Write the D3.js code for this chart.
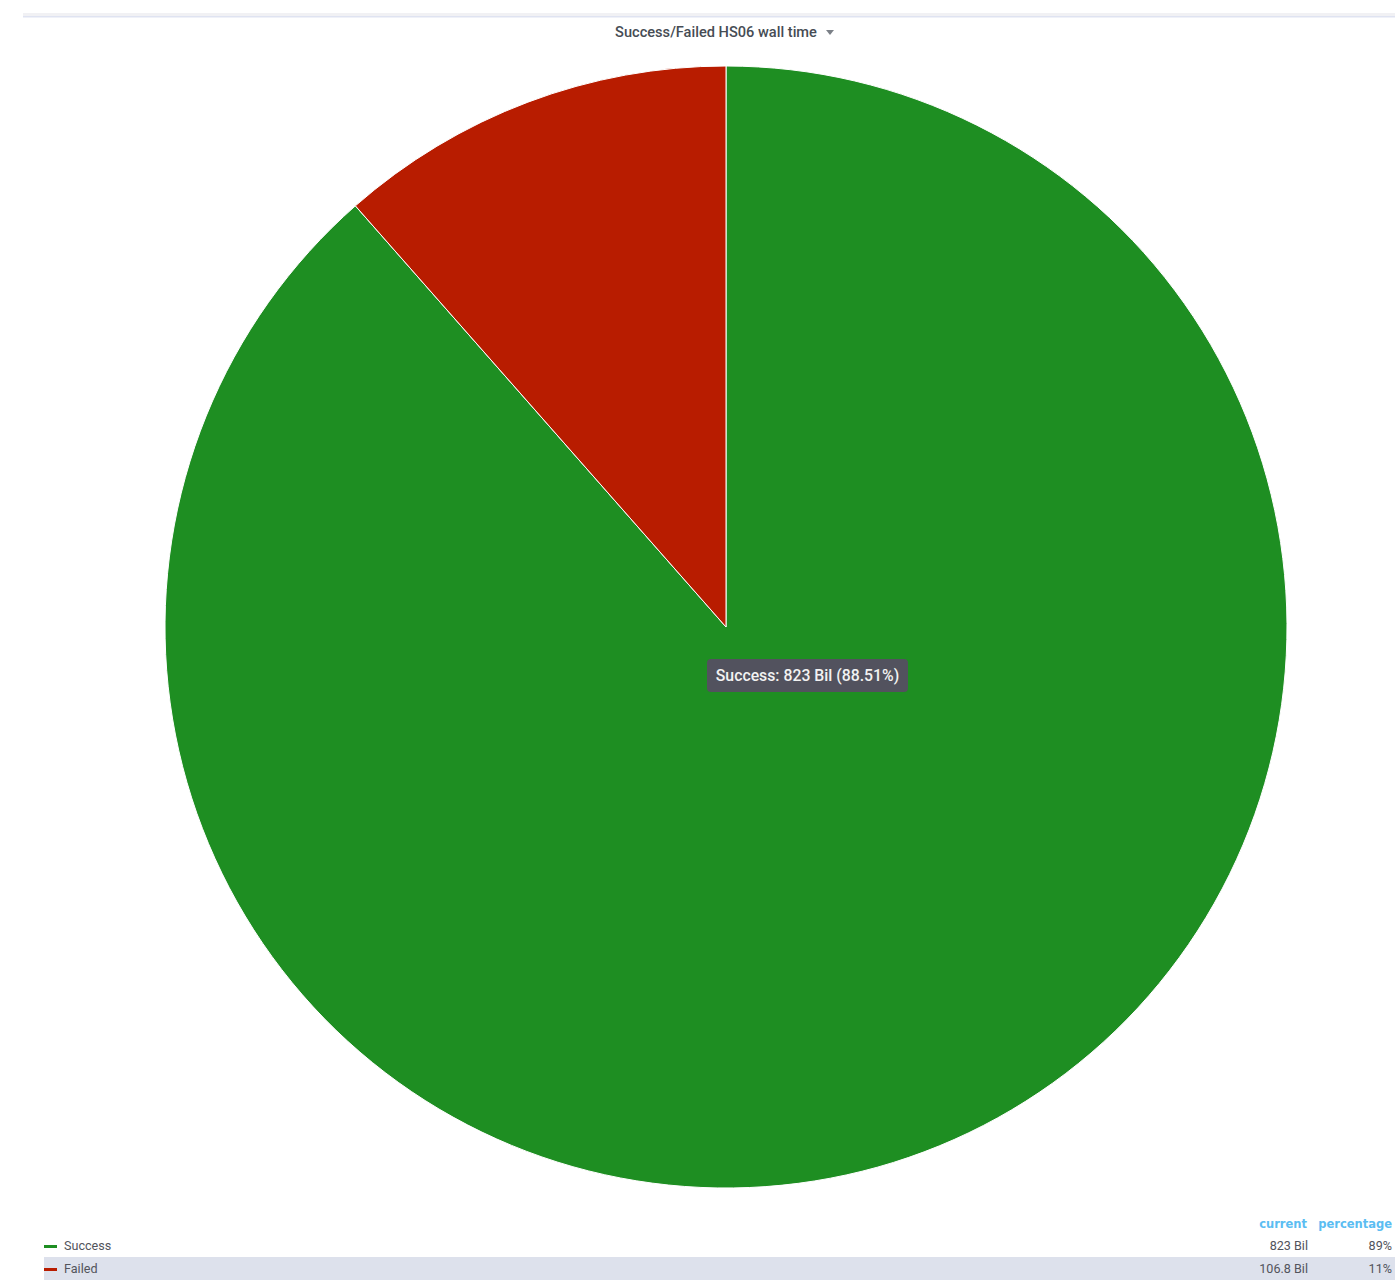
<!DOCTYPE html>
<html>
<head>
<meta charset="utf-8">
<script src="https://cdn.jsdelivr.net/npm/d3@7"></script>
<style>
  body { margin: 0; background: #fff; font-family: Roboto, "Noto Sans", sans-serif; }
</style>
</head>
<body>
<svg id="chart" width="1395" height="1283"></svg>
<script>
// chart values
var title = "Success/Failed HS06 wall time";
var names = ["Success", "Failed"];
var values = [823, 106.8];                 // billions
var currentLabels = ["823 Bil", "106.8 Bil"];
var percentLabels = ["89%", "11%"];
var colors = ["#1e8e22", "#b81c00"];
var tooltipText = "Success: 823 Bil (88.51%)";

var svg = d3.select("#chart");

// header band + rule
svg.append("rect").attr("x", 23).attr("y", 13).attr("width", 1372).attr("height", 3).attr("fill", "#f1f1f4");
svg.append("rect").attr("x", 23).attr("y", 16).attr("width", 1372).attr("height", 1.5).attr("fill", "#dfe3f1");

// title with small dropdown caret
svg.append("text")
    .attr("x", 716).attr("y", 37)
    .attr("text-anchor", "middle")
    .attr("font-size", 14.6)
    .attr("font-weight", 500)
    .attr("fill", "#464c54")
    .text(title);
svg.append("path")
    .attr("d", "M826,30 L834,30 L830,35 Z")
    .attr("fill", "#7b8087");

// pie
var cx = 726, cy = 627, r = 561;
var pie = d3.pie().sort(null).value(function(d){ return d; });
var arc = d3.arc().innerRadius(0).outerRadius(r);

var g = svg.append("g").attr("transform", "translate(" + cx + "," + cy + ")");
g.selectAll("path")
    .data(pie(values))
    .enter().append("path")
    .attr("d", arc)
    .attr("fill", function(d, i){ return colors[i]; })
    .attr("stroke", "#fff")
    .attr("stroke-width", 1);

// tooltip
var tip = svg.append("g").attr("transform", "translate(707,659)");
tip.append("rect")
    .attr("width", 201).attr("height", 33).attr("rx", 4)
    .attr("fill", "#52525e");
tip.append("text")
    .attr("x", 100.5).attr("y", 22)
    .attr("text-anchor", "middle")
    .attr("font-size", 15.8)
    .attr("font-weight", 500)
    .attr("fill", "#f2f2f2")
    .text(tooltipText);

// legend table
var legend = svg.append("g");
legend.append("text").attr("x", 1307).attr("y", 1228).attr("text-anchor", "end")
    .attr("font-family", "DejaVu Sans").attr("font-size", 11.5).attr("font-weight", 700)
    .attr("fill", "#5bbdf2").text("current");
legend.append("text").attr("x", 1392).attr("y", 1228).attr("text-anchor", "end")
    .attr("font-family", "DejaVu Sans").attr("font-size", 11.5).attr("font-weight", 700)
    .attr("fill", "#5bbdf2").text("percentage");

var rowY = d3.scaleBand().domain(names).range([1234, 1280]);

var rows = legend.selectAll("g.row")
    .data(names)
    .enter().append("g")
    .attr("class", "row")
    .attr("transform", function(d){ return "translate(0," + rowY(d) + ")"; });

rows.filter(function(d, i){ return i === 1; })
    .append("rect")
    .attr("x", 44).attr("y", 0)
    .attr("width", 1351).attr("height", rowY.bandwidth())
    .attr("fill", "#dde1ec");

rows.append("rect")
    .attr("x", 44).attr("y", rowY.bandwidth() / 2 - 0.5)
    .attr("width", 13).attr("height", 3)
    .attr("fill", function(d, i){ return colors[i]; });

rows.append("text")
    .attr("x", 64).attr("y", rowY.bandwidth() / 2 + 4.5)
    .attr("font-size", 12.6).attr("fill", "#52545c")
    .text(function(d){ return d; });

rows.append("text")
    .attr("x", 1308).attr("y", rowY.bandwidth() / 2 + 4.5)
    .attr("text-anchor", "end")
    .attr("font-size", 12.6).attr("fill", "#52545c")
    .text(function(d, i){ return currentLabels[i]; });

rows.append("text")
    .attr("x", 1392).attr("y", rowY.bandwidth() / 2 + 4.5)
    .attr("text-anchor", "end")
    .attr("font-size", 12.6).attr("fill", "#52545c")
    .text(function(d, i){ return percentLabels[i]; });
</script>
</body>
</html>
